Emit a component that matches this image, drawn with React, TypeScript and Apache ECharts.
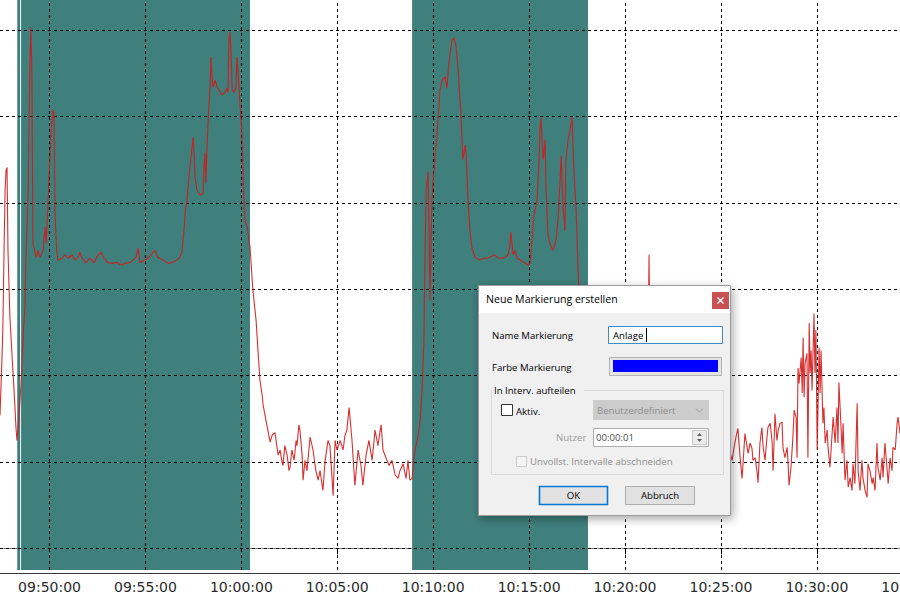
import React, { useEffect, useRef } from "react";
import * as echarts from "echarts";

// ---- data ----
const START_TIME = "09:47:25";
const AXIS_END_TIME = "10:34:20";
const tickTimes = ["09:50:00", "09:55:00", "10:00:00", "10:05:00", "10:10:00", "10:15:00", "10:20:00", "10:25:00", "10:30:00", "10:35:00"];
const gridValues = [0, 10, 20, 30, 40, 50, 60];
const markedIntervals = [
  ["09:48:19", "09:48:28"],
  ["09:48:31", "10:00:27"],
  ["10:08:54", "10:18:04"],
];
// seconds after START_TIME
const sampleOffsetSec = [
  0, 6, 9, 13, 16, 19, 22, 25, 31, 38, 44, 50, 53, 59, 66, 72, 78, 81, 88, 91, 94, 97, 100, 103, 106, 113, 119, 125, 135, 138,
  141, 144, 147, 153, 160, 166, 169, 172, 178, 181, 194, 203, 213, 225, 235, 244, 250, 256, 269, 282, 294, 307, 316, 325, 338, 350, 366, 378, 391, 407,
  416, 425, 432, 438, 454, 463, 475, 485, 494, 510, 526, 538, 554, 563, 569, 576, 579, 585, 591, 601, 604, 607, 610, 616, 626, 635, 638, 641, 644, 647,
  651, 657, 660, 663, 666, 673, 679, 685, 694, 704, 710, 713, 716, 719, 723, 726, 732, 738, 741, 744, 748, 751, 754, 757, 760, 763, 766, 773, 782, 791,
  801, 807, 813, 820, 823, 832, 845, 851, 860, 870, 876, 882, 885, 891, 898, 904, 907, 913, 920, 926, 929, 935, 938, 945, 948, 954, 960, 970, 979, 988,
  995, 1001, 1010, 1017, 1026, 1032, 1042, 1048, 1054, 1064, 1073, 1079, 1085, 1092, 1101, 1110, 1120, 1129, 1135, 1145, 1154, 1164, 1173, 1182, 1192, 1198, 1207, 1217, 1226, 1236,
  1245, 1251, 1261, 1270, 1276, 1282, 1289, 1295, 1301, 1308, 1314, 1320, 1326, 1329, 1333, 1339, 1342, 1345, 1348, 1351, 1354, 1361, 1367, 1376, 1383, 1392, 1398, 1404, 1414, 1420,
  1426, 1433, 1439, 1442, 1445, 1448, 1455, 1458, 1464, 1470, 1476, 1486, 1501, 1514, 1523, 1536, 1548, 1558, 1570, 1580, 1589, 1595, 1598, 1605, 1611, 1617, 1627, 1639, 1652, 1658,
  1664, 1670, 1680, 1686, 1689, 1692, 1699, 1705, 1708, 1714, 1720, 1730, 1739, 1745, 1752, 1755, 1761, 1767, 1770, 1777, 1783, 1789, 1795, 1802, 1808, 1811, 1817, 1827, 1839, 1852,
  1867, 1883, 1899, 1914, 1930, 1946, 1961, 1977, 1993, 2008, 2024, 2030, 2036, 2052, 2068, 2083, 2099, 2115, 2130, 2146, 2161, 2177, 2193, 2208, 2224, 2240, 2255, 2271, 2280, 2290,
  2296, 2302, 2308, 2315, 2321, 2324, 2330, 2337, 2340, 2346, 2352, 2355, 2362, 2368, 2371, 2377, 2383, 2387, 2393, 2399, 2402, 2409, 2415, 2418, 2424, 2430, 2434, 2440, 2446, 2449,
  2455, 2462, 2465, 2468, 2474, 2480, 2484, 2490, 2493, 2496, 2499, 2506, 2509, 2512, 2515, 2518, 2524, 2527, 2531, 2534, 2537, 2540, 2546, 2549, 2552, 2556, 2562, 2565, 2568, 2574,
  2577, 2581, 2587, 2590, 2596, 2602, 2606, 2612, 2618, 2621, 2624, 2631, 2634, 2637, 2643, 2649, 2653, 2659, 2665, 2668, 2674, 2681, 2684, 2690, 2696, 2699, 2706, 2712, 2715, 2721,
  2728, 2731, 2737, 2743, 2746, 2753, 2759, 2762, 2768, 2775, 2778, 2784, 2790, 2793, 2800, 2806, 2809, 2815,
];
const sampleValue = [
  15.4, 21.8, 25.6, 35.3, 41.5, 43.8, 44.1, 34.5, 26.8, 22.1, 18.3, 14.0, 12.5, 15.2, 19.1, 24.4, 27.9, 33.4, 41.5, 49.6, 56.5, 60.3, 54.2, 35.3, 34.9, 33.7, 34.5, 33.7, 34.5, 36.0,
  37.2, 35.3, 37.4, 42.6, 48.4, 50.8, 50.2, 38.4, 34.2, 33.4, 33.6, 34.0, 33.6, 34.0, 33.4, 33.7, 34.3, 33.6, 33.1, 33.6, 33.1, 34.0, 34.3, 33.6, 33.1, 33.0, 33.1, 32.8, 33.0, 33.1,
  33.4, 33.7, 34.8, 33.1, 33.4, 33.6, 34.1, 34.5, 33.7, 33.4, 33.0, 33.1, 33.4, 33.7, 34.3, 37.1, 38.9, 40.3, 43.0, 46.5, 47.6, 45.8, 43.0, 41.5, 40.9, 41.1, 44.1, 45.8, 42.3, 45.8,
  49.6, 53.4, 56.9, 54.6, 53.4, 54.2, 53.4, 53.1, 52.5, 52.8, 53.3, 52.8, 58.9, 59.8, 57.4, 53.1, 52.8, 53.4, 56.9, 55.4, 53.1, 51.1, 49.9, 47.6, 43.8, 40.3, 38.0, 37.2, 34.9, 29.9,
  26.4, 22.9, 19.5, 17.7, 16.6, 14.8, 12.3, 13.1, 13.4, 10.8, 11.4, 10.0, 9.6, 11.9, 10.8, 9.0, 9.4, 11.4, 10.2, 12.5, 11.9, 14.3, 13.7, 10.8, 7.9, 10.2, 9.0, 12.9, 11.4, 9.0,
  7.9, 9.0, 6.7, 10.2, 12.5, 11.9, 6.1, 12.5, 11.4, 12.5, 11.4, 13.1, 13.7, 16.3, 12.5, 7.3, 11.4, 9.6, 7.3, 10.8, 12.5, 10.2, 13.7, 11.9, 14.3, 11.4, 10.5, 9.6, 10.2, 8.5,
  8.1, 9.0, 9.8, 8.1, 10.2, 7.9, 8.1, 10.8, 11.9, 13.1, 14.8, 18.3, 24.1, 33.4, 41.5, 43.6, 36.8, 28.7, 34.5, 40.3, 42.1, 45.5, 47.9, 53.1, 54.2, 54.6, 53.3, 56.2, 58.9, 59.1,
  58.3, 55.4, 51.9, 50.2, 47.3, 45.0, 46.7, 45.5, 40.3, 36.8, 34.8, 33.7, 33.4, 33.6, 33.6, 33.8, 34.0, 33.6, 33.6, 33.7, 34.0, 35.1, 36.6, 34.0, 34.5, 33.6, 33.4, 33.1, 32.8, 33.0,
  35.7, 38.6, 40.3, 45.0, 48.4, 49.9, 45.0, 47.3, 41.5, 36.3, 35.3, 34.5, 35.7, 38.0, 42.6, 45.5, 39.7, 36.8, 45.0, 47.3, 48.4, 49.9, 43.8, 39.2, 32.2, 29.3, 22.9, 17.1, 13.7, 11.9,
  10.2, 11.4, 9.0, 10.8, 12.5, 9.6, 11.4, 9.0, 11.9, 10.2, 11.4, 34.0, 11.4, 9.6, 11.9, 10.2, 9.0, 11.4, 12.5, 9.6, 10.8, 9.0, 11.9, 10.2, 11.4, 9.0, 10.8, 12.5, 11.4, 10.2,
  11.7, 12.9, 13.9, 10.5, 8.1, 9.8, 13.3, 11.7, 11.0, 12.2, 11.6, 10.2, 10.5, 8.8, 7.6, 12.2, 14.0, 11.7, 10.2, 12.9, 14.0, 14.5, 12.3, 9.0, 15.6, 12.5, 13.7, 14.5, 14.6, 11.7,
  10.5, 11.7, 9.8, 7.3, 9.4, 12.9, 16.0, 15.2, 10.5, 20.9, 19.1, 22.1, 18.0, 24.4, 17.5, 21.4, 22.6, 10.5, 26.1, 20.3, 22.9, 18.3, 27.2, 20.3, 25.3, 11.4, 23.3, 18.0, 22.9, 14.5,
  16.3, 12.2, 13.7, 11.7, 9.4, 12.9, 15.2, 12.2, 16.3, 12.2, 19.2, 13.7, 11.0, 14.5, 7.9, 10.2, 7.1, 8.2, 6.7, 9.8, 7.5, 16.8, 9.0, 6.7, 10.2, 8.2, 6.7, 5.9, 9.8, 9.0,
  7.5, 8.2, 6.7, 12.2, 9.4, 7.9, 10.5, 8.2, 12.2, 9.0, 7.5, 10.5, 9.0, 11.7, 11.4, 14.5, 15.2, 13.3,
];

// dialog texts
const dialogTitle = "Neue Markierung erstellen";
const nameLabel = "Name Markierung";
const nameValue = "Anlage";
const colorLabel = "Farbe Markierung";
const groupLabel = "In Interv. aufteilen";
const activeLabel = "Aktiv.";
const modeValue = "Benutzerdefiniert";
const userLabel = "Nutzer";
const userValue = "00:00:01";
const cutLabel = "Unvollst. Intervalle abschneiden";
const okLabel = "OK";
const cancelLabel = "Abbruch";

const toSec = (t: string) => {
  const [h, m, s] = t.split(":").map(Number);
  return h * 3600 + m * 60 + s;
};
const pad = (n: number) => String(n).padStart(2, "0");
const fmt = (v: number) => {
  const s = Math.round(v);
  return `${pad(Math.floor(s / 3600))}:${pad(Math.floor((s % 3600) / 60))}:${pad(s % 60)}`;
};

const UI_FONT = '"Open Sans", "Noto Sans", sans-serif';

function txt(text: string, x: number, y: number, o: any = {}) {
  return {
    type: "text",
    x,
    y,
    z: 110,
    silent: true,
    style: {
      text,
      fill: o.fill || "#000",
      fontFamily: o.family || UI_FONT,
      fontSize: o.size || 9.6,
      fontWeight: o.weight || "normal",
      align: o.align || "left",
      textAlign: o.align || "left",
      verticalAlign: "middle",
      textVerticalAlign: "middle",
    },
  };
}
function box(x: number, y: number, w: number, h: number, fill: string, stroke?: string, lw = 1, extra: any = {}) {
  return {
    type: "rect",
    z: 105,
    silent: true,
    shape: { x, y, width: w, height: h },
    style: { fill, stroke: stroke || null, lineWidth: stroke ? lw : 0, ...extra },
  };
}
function ln(x1: number, y1: number, x2: number, y2: number, stroke: string, lw = 1) {
  return {
    type: "line",
    z: 108,
    silent: true,
    shape: { x1, y1, x2, y2 },
    style: { stroke, lineWidth: lw },
  };
}

export default function App() {
  const ref = useRef<HTMLDivElement>(null);
  useEffect(() => {
    if (!ref.current) return;
    const chart = echarts.init(ref.current, undefined, { renderer: "svg" });
    const startSec = toSec(START_TIME);
    const endSec = toSec(AXIS_END_TIME);
    const tickSecs = tickTimes.map(toSec);
    const inRange = tickSecs.filter((s) => s <= endSec);
    const outRange = tickSecs.filter((s) => s > endSec);
    const data = sampleOffsetSec.map((o, i) => [startSec + o, sampleValue[i]]);

    const dialog: any[] = [
      box(478.5, 285.5, 252, 230, "#f0f0f0", "#9c9c9c", 1, {
        shadowBlur: 10,
        shadowColor: "rgba(0,0,0,0.35)",
        shadowOffsetX: 2,
        shadowOffsetY: 3,
      }),
      box(479, 286, 251, 27, "#ffffff"),
      txt(dialogTitle, 486, 299, { size: 10.6 }),
      box(712, 292, 17, 17, "#c75050"),
      ln(717.5, 297.5, 723.5, 303.5, "#ffffff", 1.4),
      ln(723.5, 297.5, 717.5, 303.5, "#ffffff", 1.4),
      txt(nameLabel, 492, 335),
      box(608.5, 326.5, 114, 17, "#ffffff", "#3d8ccc"),
      txt(nameValue, 613, 335),
      ln(646.5, 328, 646.5, 342, "#000"),
      txt(colorLabel, 492, 367),
      box(609.5, 357.5, 112, 18, "#e3e3e3", "#b4b4b4"),
      box(613, 360, 105, 12, "#0000ff"),
      box(491.5, 390.5, 232, 84, "rgba(0,0,0,0)", "#d9d9d9"),
      box(492, 384, 92, 12, "#f0f0f0"),
      txt(groupLabel, 494, 390),
      box(501.5, 404.5, 11, 11, "#ffffff", "#333333"),
      txt(activeLabel, 516, 411),
      box(593, 400, 116, 20, "#cccccc"),
      txt(modeValue, 597, 410, { fill: "#8d8d8d" }),
      {
        type: "polyline",
        z: 108,
        silent: true,
        shape: { points: [[696, 408.5], [699.5, 412], [703, 408.5]] },
        style: { stroke: "#a0a0a0", lineWidth: 1, fill: null },
      },
      txt(userLabel, 556, 437, { fill: "#9a9a9a" }),
      box(593.5, 428.5, 115, 18, "#ffffff", "#adadad"),
      txt(userValue, 596, 437, { fill: "#505050" }),
      box(692.5, 430.5, 14, 14, "#ececec", "#c8c8c8"),
      {
        type: "polygon",
        z: 109,
        silent: true,
        shape: { points: [[697, 436], [699.5, 433], [702, 436]] },
        style: { fill: "#606060" },
      },
      {
        type: "polygon",
        z: 109,
        silent: true,
        shape: { points: [[697, 439], [699.5, 442], [702, 439]] },
        style: { fill: "#606060" },
      },
      box(516.5, 456.5, 10, 10, "#f4f4f4", "#cccccc"),
      txt(cutLabel, 530, 461, { fill: "#8d8d8d" }),
      box(539.5, 486.5, 68, 18, "#e1e1e1", "#0078d7", 1.6),
      txt(okLabel, 573.5, 495.5, { align: "center" }),
      box(625.5, 486.5, 69, 18, "#e1e1e1", "#adadad"),
      txt(cancelLabel, 660, 495.5, { align: "center" }),
    ];

    chart.setOption({
      animation: false,
      backgroundColor: "#ffffff",
      grid: { left: 0, right: 0, top: 0, bottom: 30, containLabel: false },
      xAxis: {
        type: "value",
        min: startSec,
        max: endSec,
        splitLine: { show: false },
        axisLine: { show: true, lineStyle: { color: "#808080", width: 1 } },
        axisTick: { show: true, length: 6, customValues: inRange, lineStyle: { color: "#000" } },
        axisLabel: {
          customValues: inRange,
          formatter: (v: number) => fmt(v),
          fontFamily: "DejaVu Sans",
          fontSize: 14,
          color: "#2a2a2a",
          margin: 10,
        },
      },
      yAxis: {
        type: "value",
        min: -2.5,
        max: 63.5,
        show: false,
        splitLine: { show: false },
      },
      series: [
        {
          type: "line",
          name: "bands",
          data: [],
          silent: true,
          markArea: {
            silent: true,
            z: 1,
            itemStyle: { color: "#3f7f7c", opacity: 1 },
            data: markedIntervals.map(([a, b]) => [{ xAxis: toSec(a) }, { xAxis: toSec(b) }]),
          },
        },
        {
          type: "line",
          name: "grid",
          data: [],
          silent: true,
          markLine: {
            silent: true,
            z: 1.5,
            symbol: ["none", "none"],
            label: { show: false },
            lineStyle: { color: "#000000", type: [3, 3], width: 1 },
            data: [
              ...gridValues.map((v) => ({ yAxis: v })),
              ...inRange.map((s) => ({ xAxis: s })),
            ],
          },
        },
        {
          type: "line",
          name: "signal",
          z: 3,
          data,
          showSymbol: false,
          symbol: "none",
          lineStyle: { color: "#d41a1a", width: 1.1, opacity: 0.9 },
        },
      ],
    });

    // tick labels beyond the right edge (cut off by the window, as in the original screenshot)
    const outer = outRange.map((s) => {
      const px = chart.convertToPixel({ xAxisIndex: 0 }, s) as number;
      return {
        type: "text",
        x: px,
        y: 580,
        silent: true,
        z: 50,
        style: {
          text: fmt(s),
          fill: "#2a2a2a",
          fontFamily: "DejaVu Sans",
          fontSize: 14,
          align: "center",
          textAlign: "center",
          verticalAlign: "top",
          textVerticalAlign: "top",
        },
      };
    });

    chart.setOption({
      graphic: [
        {
          type: "line",
          silent: true,
          shape: { x1: 0, y1: 573.5, x2: 900, y2: 573.5 },
          style: { stroke: "#3a3a3a", lineWidth: 1 },
          z: 50,
        },
        ...outer,
        ...dialog,
      ],
    });
    return () => chart.dispose();
  }, []);
  return <div ref={ref} style={{ position: "fixed", left: 0, top: 0, width: 900, height: 600 }} />;
}
